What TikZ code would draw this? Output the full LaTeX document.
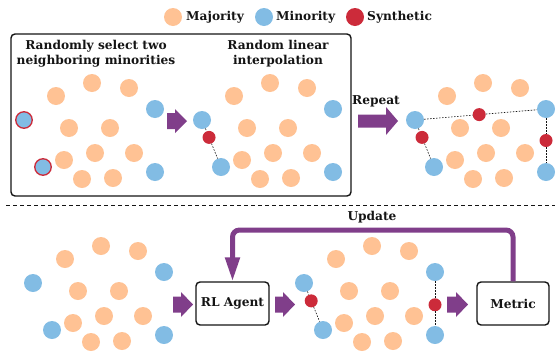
\documentclass[tikz,border=0pt]{standalone}
\usepackage{fontspec}
\setmainfont{DejaVu Serif}
\usetikzlibrary{calc,arrows.meta}
\definecolor{majc}{RGB}{255,194,148}
\definecolor{minc}{RGB}{130,188,228}
\definecolor{sync}{RGB}{204,43,58}
\definecolor{purp}{RGB}{128,62,138}
\definecolor{ink}{RGB}{20,20,20}
\tikzset{
  pt/.style={circle, inner sep=0pt, minimum size=18pt},
  maj/.style={pt, fill=majc},
  mino/.style={pt, fill=minc},
  sel/.style={pt, fill=minc, draw=sync, line width=1.3pt, minimum size=16.5pt},
  syn/.style={circle, inner sep=0pt, minimum size=13pt, fill=sync},
  lbl/.style={font=\bfseries\fontsize{12.2}{15}\selectfont, text=ink, inner sep=0pt},
  link/.style={draw=ink, line width=0.6pt, dash pattern=on 1.6pt off 1.4pt},
  boxstyle/.style={draw=ink, line width=1.4pt, rounded corners=4pt, fill=white},
  pics/barrow/.style n args={4}{code={
    \fill[purp] (0,-#2) -- (#1-#4,-#2) -- (#1-#4,-#3) -- (#1,0) -- (#1-#4,#3) -- (#1-#4,#2) -- (0,#2) -- cycle;}}
}
\newcommand\drawpanel[3]{% #1 prefix, #2 shift, #3 style of a,b
  \begin{scope}[shift={#2}]
    \foreach \px/\py [count=\i] in {56/96,92/83,129/88,69/128,110/128,64/160,95/153,134/153,82/179,113/178}
      \node[maj] (#1m\i) at (\px,\py) {};
    \node[#3] (#1a) at (24,120) {};
    \node[#3] (#1b) at (43,167) {};
    \node[mino] (#1c) at (155,109) {};
    \node[mino] (#1d) at (155,172) {};
  \end{scope}}
\begin{document}
\begin{tikzpicture}[x=1pt,y=-1pt]
\useasboundingbox (0,0) rectangle (557,354);
% legend
\node[maj] (lmaj) at (173,17) {};
\node[lbl, anchor=west] (tmaj) at (186,17) {Majority};
\node[mino] (lmin) at (264,17) {};
\node[lbl, anchor=west] (tmin) at (276,17) {Minority};
\node[pt, fill=sync] (lsyn) at (355,17) {};
\node[lbl, anchor=west] (tsyn) at (367,17) {Synthetic};
% top box
\node[boxstyle, minimum width=340pt, minimum height=162pt] (frame) at (181,115) {};
\node[lbl, align=center] (t1) at (96,53.5) {Randomly select two\\neighboring minorities};
\node[lbl, align=center] (t2) at (278,53.5) {Random linear\\interpolation};
% panel 1
\drawpanel{p1}{(0,0)}{sel}
\pic at (167,121) {barrow={20}{8}{12}{12}};
% panel 2
\drawpanel{p2}{(178,0)}{mino}
\node[syn] (p2s1) at ($(p2a)!0.37!(p2b)$) {};
\draw[link] (p2a) -- (p2s1) -- (p2b);
% repeat
\node[lbl] (trep) at (376,101) {Repeat};
\pic at (358,121) {barrow={40}{6.5}{14}{12}};
% panel 3
\drawpanel{p3}{(391,0)}{mino}
\node[syn] (p3s1) at ($(p3a)!0.37!(p3b)$) {};
\node[syn] (p3s2) at ($(p3a)!0.49!(p3c)$) {};
\node[syn] (p3s3) at ($(p3c)!0.5!(p3d)$) {};
\draw[link] (p3a) -- (p3s1) -- (p3b);
\draw[link] (p3a) -- (p3s2) -- (p3c);
\draw[link] (p3c) -- (p3s3) -- (p3d);
% separator
\coordinate (sepl) at (6,205);
\coordinate (sepr) at (555,205);
\draw[ink, line width=1pt, dash pattern=on 4pt off 3pt] (sepl) -- (sepr);
% bottom
\drawpanel{p4}{(9,163)}{mino}
\pic at (173,304.5) {barrow={20}{8}{12.5}{12}};
\node[boxstyle, minimum width=73pt, minimum height=43pt, lbl] (rl) at (232.5,303.5) {RL Agent};
\pic at (275,304.5) {barrow={20}{8}{12.5}{12}};
\drawpanel{p5}{(280,163)}{mino}
\node[syn] (p5s1) at ($(p5a)!0.38!(p5b)$) {};
\node[syn] (p5s2) at ($(p5c)!0.52!(p5d)$) {};
\draw[link] (p5a) -- (p5s1) -- (p5b);
\draw[link] (p5c) -- (p5s2) -- (p5d);
\pic at (447,304.5) {barrow={21}{8}{12.5}{12}};
\node[boxstyle, minimum width=72pt, minimum height=43pt, lbl] (metric) at (513,303.5) {Metric};
% update loop
\coordinate (upy) at (0,230);
\draw[purp, line width=5pt, rounded corners=7pt, -{Triangle[length=24pt,width=14pt]}]
  (metric.north) -- (metric.north |- upy) -- (rl.north |- upy) -- (rl.north);
\node[lbl] (tupd) at (372,217) {Update};
\end{tikzpicture}
\end{document}
